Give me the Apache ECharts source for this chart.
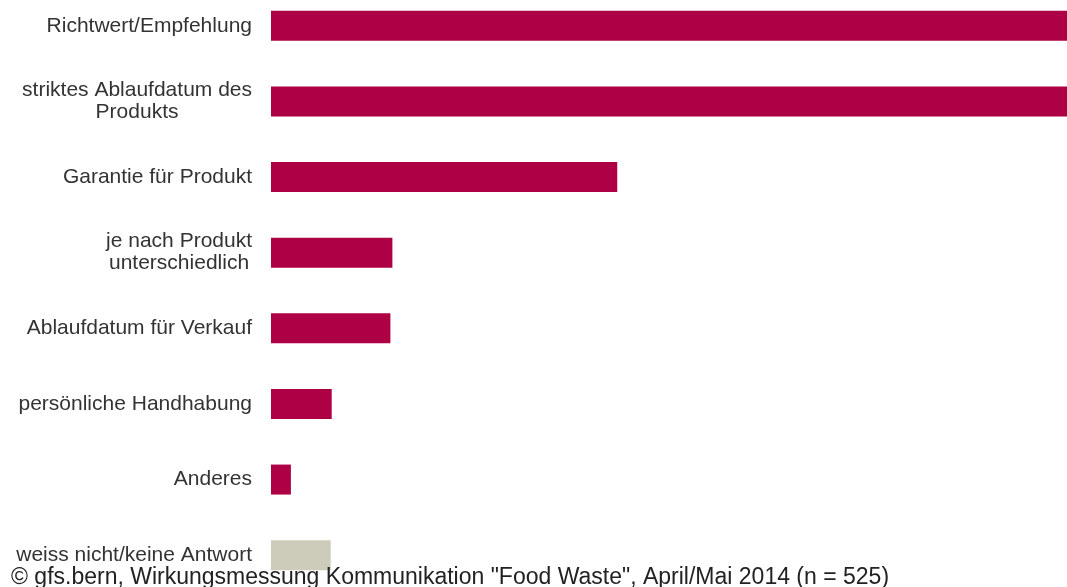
<!DOCTYPE html>
<html>
<head>
<meta charset="utf-8">
<script src="https://cdn.jsdelivr.net/npm/echarts@6/dist/echarts.min.js"></script>
<style>
  html, body { margin: 0; padding: 0; background: #fff; overflow: hidden; width: 1067px; height: 587px; position: relative; }
  #chart { position: absolute; left: 0; top: -12px; width: 1067px; height: 611px; }
</style>
</head>
<body>
<div id="chart"></div>
<script>
const categories = [
  "Richtwert/Empfehlung",
  "striktes Ablaufdatum des\nProdukts",
  "Garantie für Produkt",
  "je nach Produkt\nunterschiedlich",
  "Ablaufdatum für Verkauf",
  "persönliche Handhabung",
  "Anderes",
  "weiss nicht/keine Antwort"
];
const values = [85, 82, 34.8, 12.2, 12, 6.1, 2, 6];
const footer = '© gfs.bern, Wirkungsmessung Kommunikation "Food Waste", April/Mai 2014 (n = 525)';

const mainColor = '#ad0045';
const greyColor = '#cdccbb';
const fontFam = 'Liberation Sans, Arial, sans-serif';

const chart = echarts.init(document.getElementById('chart'), null, { renderer: 'canvas' });
chart.setOption({
  animation: false,
  backgroundColor: '#ffffff',
  title: {
    text: footer,
    left: 11,
    top: 578,
    padding: 0,
    textStyle: { fontFamily: fontFam, fontSize: 23, fontWeight: 'normal', color: '#222' }
  },
  grid: { left: 271, right: 0, top: 0, height: 605, containLabel: false },
  xAxis: {
    type: 'value', min: 0, max: 80, show: false
  },
  yAxis: {
    type: 'category',
    inverse: true,
    data: categories,
    axisLine: { show: false },
    axisTick: { show: false },
    splitLine: { show: false },
    axisLabel: {
      margin: 19,
      color: '#333',
      fontFamily: fontFam,
      fontSize: 21,
      formatter: function (v) {
        return v.split('\n').map(function (s) { return '{a|' + s + '}'; }).join('\n');
      },
      rich: {
        a: { align: 'center', fontSize: 21, lineHeight: 22, color: '#333', fontFamily: fontFam }
      }
    }
  },
  series: [{
    type: 'bar',
    barWidth: 30,
    clip: true,
    data: values.map(function (v, i) {
      return { value: v, itemStyle: { color: i === values.length - 1 ? greyColor : mainColor } };
    })
  }]
});
</script>
</body>
</html>
